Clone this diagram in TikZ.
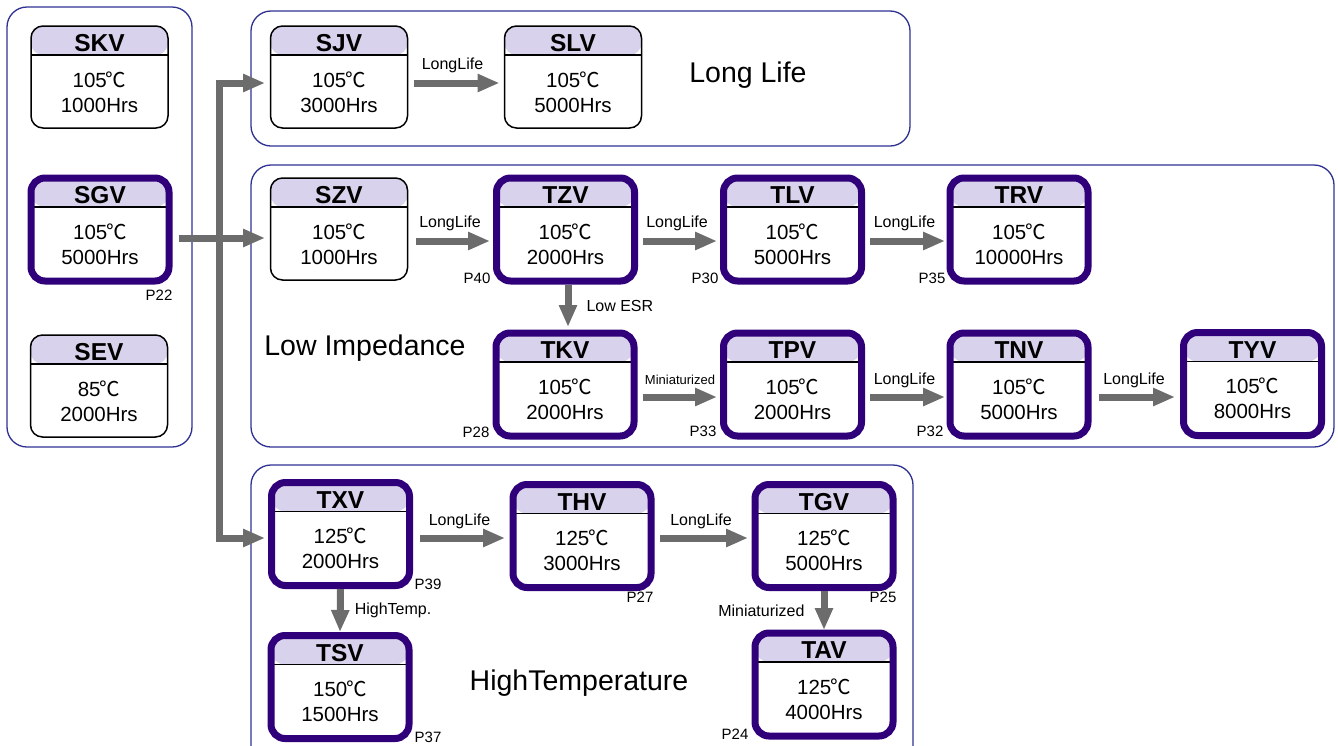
\documentclass[tikz,border=0pt]{standalone}
\usepackage{fontspec}
\setmainfont{Liberation Sans}
\newfontfamily\cjk{Noto Sans CJK SC}
\usetikzlibrary{arrows.meta}
\definecolor{grpblue}{RGB}{46,49,146}
\definecolor{indigo}{RGB}{48,0,122}
\definecolor{lav}{RGB}{217,210,236}
\definecolor{arrgray}{RGB}{108,108,108}
\tikzset{
 grp/.style={draw=grpblue, line width=1.3pt, rounded corners=20pt},
 capbox/.style={draw=black, line width=1.5pt, rounded corners=12pt, minimum width=137pt, minimum height=102pt,
   inner sep=0pt, outer sep=0pt, fill=white,
   path picture={\fill[lav] (path picture bounding box.north west) rectangle ([yshift=-29pt]path picture bounding box.north east);
     \draw[black,line width=1.3pt] ([yshift=-29pt]path picture bounding box.north west) -- ([yshift=-29pt]path picture bounding box.north east);}},
 thickbox/.style={capbox, draw=indigo, line width=7pt, rounded corners=14pt, minimum width=138pt, minimum height=103pt},
 ttl/.style={font=\fontsize{24.5}{24.5}\selectfont\bfseries, inner sep=0pt, anchor=base},
 body/.style={font=\fontsize{20.5}{20.5}\selectfont, inner sep=0pt, anchor=base},
 arr/.style={draw=arrgray, line width=7pt, -{Triangle[length=22pt,width=17pt]}},
 lbl/.style={font=\fontsize{16}{16}\selectfont, inner sep=0pt},
 pg/.style={font=\fontsize{15}{15}\selectfont, inner sep=0pt},
 big/.style={font=\fontsize{28.5}{28.5}\selectfont, inner sep=0pt},
}
\newcommand\mkcap[6]{%
 \node[#1] (#2) at (#3) {};
 \node[ttl] (#2t) at ([yshift=-25.5pt]#2.north) {#4};
 \node[body] (#2a) at ([yshift=-61pt]#2.north) {#5\kern-1pt{\cjk ℃}};
 \node[body] (#2b) at ([yshift=-86pt]#2.north) {#6};}
\begin{document}
\begin{tikzpicture}[x=1pt,y=-1pt]
\useasboundingbox (0,0) rectangle (1338,745);
% groups
\draw[grp] (7,7) rectangle (192,447);
\draw[grp] (251,11) rectangle (910,146);
\draw[grp] (251,165) rectangle (1334,447);
\draw[grp] (251,465) rectangle (913,770);
% big labels
\node[big] (lbllong) at (748,75) {Long Life};
\node[big] (lbllow) at (365,348) {Low Impedance};
\node[big] (lblht) at (579,683) {HighTemperature};
% boxes
\mkcap{capbox}{skv}{99.5,77}{SKV}{105}{1000Hrs}
\mkcap{thickbox}{sgv}{100,229.5}{SGV}{105}{5000Hrs}
\mkcap{capbox}{sev}{99,386}{SEV}{85}{2000Hrs}
\mkcap{capbox}{sjv}{339,77}{SJV}{105}{3000Hrs}
\mkcap{capbox}{slv}{573,77}{SLV}{105}{5000Hrs}
\mkcap{capbox}{szv}{339,229}{SZV}{105}{1000Hrs}
\mkcap{thickbox}{tzv}{565.5,229.5}{TZV}{105}{2000Hrs}
\mkcap{thickbox}{tlv}{792.5,229.5}{TLV}{105}{5000Hrs}
\mkcap{thickbox}{trv}{1019,229.5}{TRV}{105}{10000Hrs}
\mkcap{thickbox}{tkv}{565,384.5}{TKV}{105}{2000Hrs}
\mkcap{thickbox}{tpv}{792.5,384.5}{TPV}{105}{2000Hrs}
\mkcap{thickbox}{tnv}{1019,384.5}{TNV}{105}{5000Hrs}
\mkcap{thickbox}{tyv}{1252.5,384}{TYV}{105}{8000Hrs}
\mkcap{thickbox}{txv}{340.5,534}{TXV}{125}{2000Hrs}
\mkcap{thickbox}{thv}{582,536}{THV}{125}{3000Hrs}
\mkcap{thickbox}{tgv}{824,536}{TGV}{125}{5000Hrs}
\mkcap{thickbox}{tsv}{340,687}{TSV}{150}{1500Hrs}
\mkcap{thickbox}{tav}{824,684.5}{TAV}{125}{4000Hrs}
% row coordinates
\coordinate (yA) at (0,83);
\coordinate (yB) at (0,241);
\coordinate (yC) at (0,397);
\coordinate (yD) at (0,538);
\coordinate (bus) at (219,238);
% bus connector
\draw[arr,-] ([xshift=10pt]sgv.east |- bus) -- (bus);
\draw[arr] (bus) |- ([xshift=-5.5pt]sjv.west |- yA);
\draw[arr] (bus) -- ([xshift=-5.5pt]szv.west |- bus);
\draw[arr] (bus) |- ([xshift=-6.5pt]txv.west |- yD);
% horizontal arrows
\draw[arr] ([xshift=6pt]sjv.east |- yA) -- ([xshift=-5pt]slv.west |- yA) node[lbl,midway,yshift=18pt,xshift=-4pt] (l1) {LongLife};
\draw[arr] ([xshift=8.5pt]szv.east |- yB) -- ([xshift=-6.5pt]tzv.west |- yB) node[lbl,midway,yshift=18pt,xshift=-3pt] (l2) {LongLife};
\draw[arr] ([xshift=8.5pt]tzv.east |- yB) -- ([xshift=-6.5pt]tlv.west |- yB) node[lbl,midway,yshift=18pt,xshift=-3pt] (l3) {LongLife};
\draw[arr] ([xshift=8.5pt]tlv.east |- yB) -- ([xshift=-5pt]trv.west |- yB) node[lbl,midway,yshift=18pt,xshift=-3pt] (l4) {LongLife};
\draw[arr] ([xshift=9pt]tkv.east |- yC) -- ([xshift=-6.5pt]tpv.west |- yC) node[lbl,midway,yshift=17pt,font=\fontsize{13}{13}\selectfont] (l5) {Miniaturized};
\draw[arr] ([xshift=8.5pt]tpv.east |- yC) -- ([xshift=-5pt]tnv.west |- yC) node[lbl,midway,yshift=17pt,xshift=-3pt] (l6) {LongLife};
\draw[arr] ([xshift=11pt]tnv.east |- yC) -- ([xshift=-8.5pt]tyv.west |- yC) node[lbl,midway,yshift=17pt,xshift=-3pt] (l7) {LongLife};
\draw[arr] ([xshift=10.5pt]txv.east |- yD) -- ([xshift=-8pt]thv.west |- yD) node[lbl,midway,yshift=17pt,xshift=-3pt] (l8) {LongLife};
\draw[arr] ([xshift=9pt]thv.east |- yD) -- ([xshift=-7pt]tgv.west |- yD) node[lbl,midway,yshift=17pt,xshift=-3pt] (l9) {LongLife};
% vertical arrows
\draw[arr] ([xshift=2.5pt,yshift=-4pt]tzv.south) -- ([xshift=3pt,yshift=6pt]tkv.north) node[lbl,midway,anchor=west,xshift=15pt] (l10) {Low ESR};
\draw[arr] ([yshift=-3.5pt]txv.south) -- ([yshift=3.5pt]tsv.north) node[lbl,midway,anchor=west,xshift=11pt] (l11) {HighTemp.};
\draw[arr] ([yshift=-3.5pt]tgv.south) -- ([yshift=3pt]tav.north) node[lbl,midway,anchor=east,xshift=-16pt] (l12) {Miniaturized};
% page labels
\node[pg] (p22) at (159,295) {P22};
\node[pg] (p40) at (477,278) {P40};
\node[pg] (p30) at (705,278) {P30};
\node[pg] (p35) at (932,278) {P35};
\node[pg] (p28) at (476,432) {P28};
\node[pg] (p33) at (703,431) {P33};
\node[pg] (p32) at (930,431) {P32};
\node[pg] (p39) at (428,584) {P39};
\node[pg] (p27) at (640,597) {P27};
\node[pg] (p25) at (883,597.5) {P25};
\node[pg] (p37) at (428,737.5) {P37};
\node[pg] (p24) at (735,734) {P24};
\end{tikzpicture}
\end{document}
